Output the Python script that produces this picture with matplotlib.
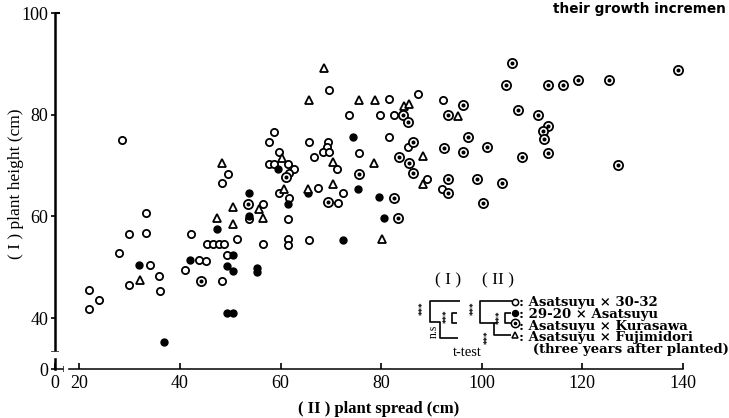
import matplotlib.pyplot as plt
from matplotlib.lines import Line2D
from matplotlib.patches import Rectangle

# (II) plant spread (cm) vs (I) plant height (cm)
# o : Asatsuyu x 30-32
open_x = [28.4, 33.2, 29.9, 33.2, 27.9, 34.0, 35.8, 29.9, 36.1, 21.9, 23.9, 21.9,
          42.1, 45.3, 46.5, 47.7, 48.8, 49.3, 43.8, 45.2, 41.0, 48.4, 51.4, 56.5,
          61.4, 61.4, 65.6, 69.7, 58.6, 57.7, 65.6, 69.5, 69.3, 68.5, 69.7, 59.7,
          57.6, 58.6, 61.4, 62.6, 61.6, 66.6, 71.2, 49.6, 48.4, 59.6, 61.7, 67.4,
          71.4, 56.5, 53.7, 61.4, 72.5, 73.5, 79.7, 82.5, 81.5, 87.3, 92.3, 81.5,
          85.3, 75.5, 89.1, 92.1]
open_y = [75.0, 60.7, 56.6, 56.8, 52.9, 50.5, 48.3, 46.5, 45.4, 45.6, 43.6, 41.7,
          56.6, 54.5, 54.5, 54.5, 54.5, 52.5, 51.5, 51.3, 49.5, 47.4, 55.5, 54.5,
          55.5, 54.3, 55.4, 84.8, 76.6, 74.7, 74.7, 74.7, 73.6, 72.6, 72.6, 72.6,
          70.4, 70.4, 70.4, 69.3, 68.5, 71.6, 69.4, 68.4, 66.6, 64.6, 63.7, 65.6,
          62.7, 62.5, 59.5, 59.5, 64.6, 79.9, 79.9, 79.9, 83.0, 84.1, 82.8, 75.6,
          73.7, 72.5, 67.3, 65.4]

# filled : 29-20 x Asatsuyu
filled_x = [31.9, 36.8, 47.3, 42.0, 50.5, 49.3, 50.5, 55.4, 55.4, 49.3, 50.5,
            59.5, 61.5, 65.4, 53.8, 53.7, 74.4, 75.4, 79.5, 80.5, 72.4]
filled_y = [50.5, 35.4, 57.5, 51.5, 52.4, 50.3, 49.2, 49.8, 49.1, 41.1, 41.1,
            69.4, 62.5, 64.6, 64.6, 60.1, 75.7, 65.4, 63.8, 59.6, 55.4]

# dotted circle : Asatsuyu x Kurasawa
dotted_x = [44.2, 61.1, 53.6, 69.5, 96.2, 84.4, 85.4, 93.3, 86.4, 97.3, 92.4,
            101.1, 96.3, 83.5, 85.6, 75.5, 86.4, 93.3, 99.1, 93.3, 82.5, 100.3,
            83.4, 106.1, 104.9, 113.2, 116.2, 119.2, 125.3, 139.1, 107.1, 111.1,
            113.2, 112.1, 112.3, 107.9, 113.1, 127.1, 104.1]
dotted_y = [47.4, 67.8, 62.5, 62.8, 81.9, 80.0, 78.6, 79.9, 74.7, 75.7, 73.5,
            73.6, 72.6, 71.6, 70.6, 68.3, 68.6, 67.4, 67.4, 64.6, 63.6, 62.6,
            59.6, 90.1, 85.9, 85.9, 85.9, 86.9, 86.8, 88.8, 81.0, 79.9,
            77.8, 76.7, 75.2, 71.6, 72.5, 70.2, 66.6]

# triangle : Asatsuyu x Fujimidori
tri_x = [32.0, 47.3, 50.5, 50.6, 55.7, 56.6, 48.4, 68.7, 65.6, 75.5, 78.7, 84.5,
         85.5, 95.2, 60.3, 70.5, 78.5, 88.3, 88.3, 70.5, 60.6, 65.4, 80.2]
tri_y = [47.5, 59.6, 58.5, 61.8, 61.4, 59.6, 70.6, 89.2, 82.8, 82.8, 82.9, 81.7,
         82.2, 79.8, 71.4, 70.7, 70.5, 71.8, 66.4, 66.4, 65.4, 65.4, 55.6]

legend_names = [': Asatsuyu × 30-32', ': 29-20 × Asatsuyu',
                ': Asatsuyu × Kurasawa', ': Asatsuyu × Fujimidori',
                '   (three years after planted)']

x_ticks = [20, 40, 60, 80, 100, 120, 140]
y_ticks = [40, 60, 80, 100]
x_min, y_min = 15.15, 30

W, H = 729, 418
serif = 'Liberation Serif'

fig = plt.figure(figsize=(W / 100, H / 100), dpi=100)
ax = fig.add_axes([55 / W, 49 / H, (683 - 55) / W, (369 - 13) / H])

mk = dict(linestyle='none', clip_on=False, color='black')
ax.plot(open_x, open_y, marker='o', markersize=5.2, markerfacecolor='white',
        markeredgewidth=1.3, **mk)
ax.plot(filled_x, filled_y, marker='o', markersize=5.0, **mk)
ax.plot(dotted_x, dotted_y, marker='o', markersize=6.6, markerfacecolor='white',
        markeredgewidth=1.3, **mk)
ax.plot(dotted_x, dotted_y, marker='o', markersize=1.9, **mk)
ax.plot(tri_x, tri_y, marker='^', markersize=5.2, markerfacecolor='white',
        markeredgewidth=1.3, **mk)

ax.set_xlim(x_min, 140)
ax.set_ylim(y_min, 100)
ax.set_xticks([x_min] + x_ticks)
ax.set_xticklabels(['0'] + [str(v) for v in x_ticks])
ax.set_yticks([y_min] + y_ticks)
ax.set_yticklabels(['0'] + [str(v) for v in y_ticks])
for lab in ax.get_xticklabels() + ax.get_yticklabels():
    lab.set_fontfamily(serif)
    lab.set_fontsize(13)
ax.tick_params(axis='x', direction='in', length=4, width=1.2, pad=4)
ax.tick_params(axis='y', direction='out', length=3, width=1.2, pad=2)
ax.spines['top'].set_visible(False)
ax.spines['right'].set_visible(False)
ax.spines['left'].set_linewidth(1.8)
ax.spines['bottom'].set_linewidth(1.1)

ax.set_ylabel('( I ) plant height (cm)', fontfamily=serif, fontsize=12.5)
ax.yaxis.set_label_coords(-0.05, 0.52)
ax.set_xlabel('( II ) plant spread (cm)', fontfamily=serif, fontsize=12,
              fontweight='bold')
ax.xaxis.set_label_coords((379 - 55) / 628, -0.09)


def P(x, y):
    return x / W, 1 - y / H


def seg(pts, lw=1.2, color='black'):
    xs = [P(*p)[0] for p in pts]
    ys = [P(*p)[1] for p in pts]
    fig.add_artist(Line2D(xs, ys, lw=lw, color=color, solid_capstyle='butt'))


# axis breaks and top cap
fig.add_artist(Rectangle(P(50, 357), 10 / W, 5 / H, color='white', zorder=5))
seg([(51, 352), (59, 352)])
seg([(51, 356), (59, 356)])
fig.add_artist(Rectangle(P(64, 372), 3 / W, 6 / H, color='white', zorder=5))
seg([(64, 366), (64, 372)])
seg([(67, 366), (67, 372)])
seg([(55, 13), (60, 13)], lw=1.5)

# t-test brackets
fig.text(*P(448, 280), '( I )', fontfamily=serif, fontsize=12.5, ha='center', va='center')
fig.text(*P(498, 280), '( II )', fontfamily=serif, fontsize=12.5, ha='center', va='center')
seg([(460, 301), (430, 301), (430, 322), (440, 322), (440, 338), (458, 338)])
seg([(457, 313), (452, 313), (452, 323), (457, 323)])
star = dict(fontsize=6, rotation=90, ha='center', va='center', fontweight='bold')
fig.text(*P(423, 308), '***', **star)
fig.text(*P(447, 316), '***', **star)
fig.text(*P(434, 331), 'n.s', fontfamily=serif, fontsize=8.5, rotation=90,
         ha='center', va='center')
seg([(512, 301), (480, 301), (480, 323), (497, 323)])
seg([(511, 313), (505, 313), (505, 323), (511, 323)])
seg([(511, 335), (494, 335), (494, 323)])
fig.text(*P(474, 308), '***', **star)
fig.text(*P(500, 317), '***', **star)
fig.text(*P(488, 337), '***', **star)
fig.text(*P(467, 352), 't-test', fontfamily=serif, fontsize=10.5, ha='center',
         va='center')

# legend
fig.text(*P(519, 296), '\n'.join(legend_names), fontfamily='DejaVu Serif',
         fontsize=9.5, fontweight='bold', ha='left', va='top', linespacing=0.88)
lk = dict(transform=fig.transFigure, linestyle='none', color='black')
fig.add_artist(Line2D([P(515, 302)[0]], [P(515, 302)[1]], marker='o', markersize=4.5,
                      markerfacecolor='white', markeredgewidth=1.1, **lk))
fig.add_artist(Line2D([P(515, 313)[0]], [P(515, 313)[1]], marker='o', markersize=4.3, **lk))
fig.add_artist(Line2D([P(515, 323)[0]], [P(515, 323)[1]], marker='o', markersize=6,
                      markerfacecolor='white', markeredgewidth=1.1, **lk))
fig.add_artist(Line2D([P(515, 323)[0]], [P(515, 323)[1]], marker='o', markersize=1.6, **lk))
fig.add_artist(Line2D([P(515, 335)[0]], [P(515, 335)[1]], marker='^', markersize=4.5,
                      markerfacecolor='white', markeredgewidth=1.1, **lk))

fig.text(*P(553, 9), 'their growth incremen', fontfamily='DejaVu Sans',
         fontsize=9.8, fontweight='bold', ha='left', va='center')

fig.savefig('out.png', dpi=100)
